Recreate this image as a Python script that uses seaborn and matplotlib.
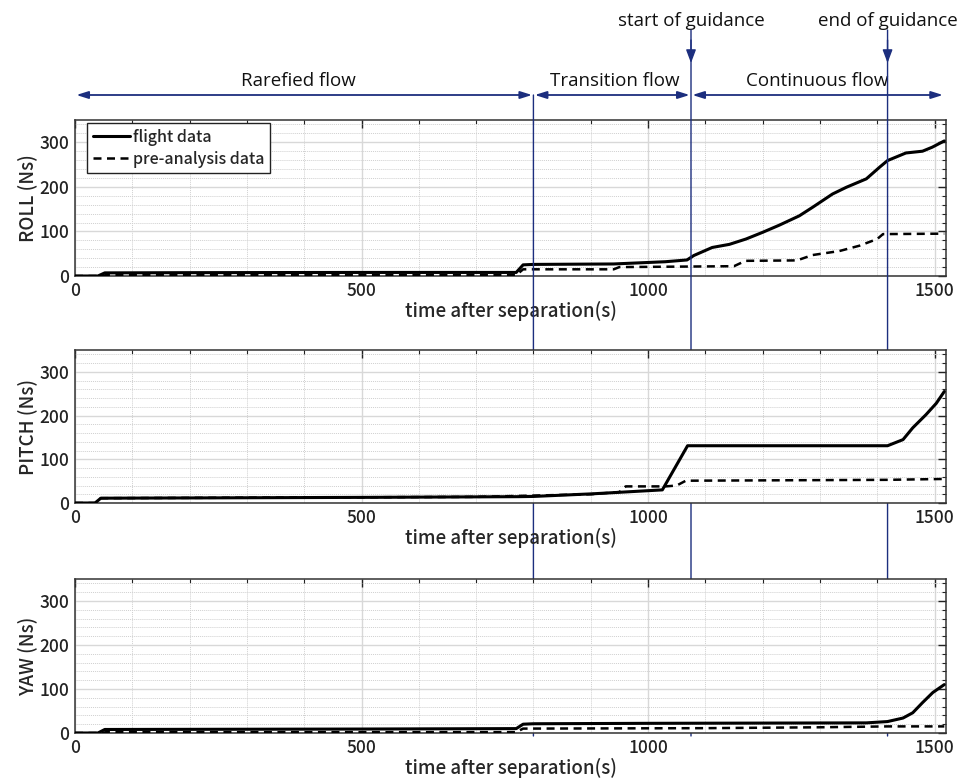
import numpy as np
import pandas as pd
import matplotlib
matplotlib.use("Agg")
import matplotlib.pyplot as plt
import seaborn as sns
from matplotlib.ticker import MultipleLocator

# ---------------- data ----------------
roll_flight_t = [0, 40, 52, 200, 500, 770, 782, 800, 940, 1030, 1068, 1080, 1112, 1142, 1171, 1200,
                 1229, 1264, 1287, 1322, 1346, 1381, 1404, 1418, 1450, 1479, 1496, 1517]
roll_flight_v = [0, 0, 7, 7.5, 8, 8, 25, 26, 27, 32, 36, 46, 64, 71, 83, 98,
                 114, 135, 154, 184, 199, 218, 244, 259, 276, 280, 289, 303]
roll_pre_t = [0, 45, 55, 770, 782, 940, 950, 1150, 1170, 1260, 1287, 1334, 1369, 1400, 1410, 1517]
roll_pre_v = [0, 0, 2, 2, 15, 15, 20, 22, 34, 35, 47, 56, 68, 83, 94, 95]

pitch_flight_t = [0, 35, 45, 300, 530, 774, 800, 903, 1025, 1069, 1418, 1445, 1462, 1485, 1503, 1517]
pitch_flight_v = [0, 0, 11, 12, 13, 14.5, 15, 21, 30, 131, 131, 145, 172, 202, 228, 255]
pitch_pre_t = [0, 35, 45, 700, 900, 950, 961, 1031, 1050, 1066, 1418, 1517]
pitch_pre_v = [0, 0, 11, 14, 20, 25, 38, 38, 40, 51, 53, 55]

yaw_flight_t = [0, 40, 52, 500, 770, 782, 800, 1000, 1381, 1418, 1445, 1462, 1479, 1497, 1517]
yaw_flight_v = [0, 0, 8, 9, 10, 20, 21, 22, 23, 26, 34, 46, 69, 92, 110]
yaw_pre_t = [0, 45, 55, 770, 782, 1100, 1300, 1418, 1517]
yaw_pre_v = [0, 0, 2, 2, 10, 11, 13, 15, 15]

panel_labels = ["ROLL (Ns)", "PITCH (Ns)", "YAW (Ns)"]
xlabel = "time after separation(s)"
legend_labels = ["flight data", "pre-analysis data"]
region_names = ["Rarefied flow", "Transition flow", "Continuous flow"]
region_bounds = [0, 800, 1075, 1517]
event_names = ["start of guidance", "end of guidance"]
event_times = [1075, 1418]

# ---------------- style ----------------
sns.set_style("white")
plt.rcParams["font.family"] = ["Noto Sans CJK JP", "DejaVu Sans"]
NAVY = "#1c2e7e"
tick_font = ["Noto Sans CJK JP", "DejaVu Sans"]
anno_font = ["Open Sans", "DejaVu Sans"]

W, H = 964, 783
fig = plt.figure(figsize=(W / 100, H / 100), dpi=100)

panels_px = [(120, 276), (350, 503), (579, 733)]
left_px, right_px = 75, 946

series = [
    (roll_flight_t, roll_flight_v, roll_pre_t, roll_pre_v),
    (pitch_flight_t, pitch_flight_v, pitch_pre_t, pitch_pre_v),
    (yaw_flight_t, yaw_flight_v, yaw_pre_t, yaw_pre_v),
]

axes = []
for i, ((top, bot), (ft, fv, pt, pv)) in enumerate(zip(panels_px, series)):
    ax = fig.add_axes([left_px / W, 1 - bot / H, (right_px - left_px) / W, (bot - top) / H])
    axes.append(ax)
    df_f = pd.DataFrame({"t": ft, "v": fv})
    df_p = pd.DataFrame({"t": pt, "v": pv})
    sns.lineplot(data=df_p, x="t", y="v", ax=ax, color="black", linewidth=1.8,
                 linestyle=(0, (3.2, 2.2)), label=legend_labels[1], zorder=3)
    sns.lineplot(data=df_f, x="t", y="v", ax=ax, color="black", linewidth=2.2,
                 label=legend_labels[0], zorder=4)
    ax.set_xlim(0, 1520)
    ax.set_ylim(0, 350)
    ax.xaxis.set_major_locator(MultipleLocator(500))
    ax.xaxis.set_minor_locator(MultipleLocator(100))
    ax.yaxis.set_major_locator(MultipleLocator(100))
    ax.yaxis.set_minor_locator(MultipleLocator(20))
    ax.grid(True, which="major", color="#d8d8d8", linewidth=1.0, linestyle="-")
    ax.grid(True, which="minor", color="#d0d0d0", linewidth=0.7, linestyle=(0, (1, 1)))
    ax.set_axisbelow(True)
    ax.tick_params(which="both", direction="in", top=True, right=True, colors="#222222")
    ax.tick_params(which="major", length=6, width=1, labelsize=12.5, pad=4)
    ax.tick_params(which="minor", length=3, width=0.8)
    for lab in ax.get_xticklabels() + ax.get_yticklabels():
        lab.set_family(tick_font)
        lab.set_fontweight("medium")
    for s in ax.spines.values():
        s.set_color("#333333")
        s.set_linewidth(1.1)
    ax.set_xlabel(xlabel, fontsize=13.5, family=tick_font, fontweight="medium", labelpad=1)
    ax.set_ylabel(panel_labels[i], fontsize=13.5, family=tick_font, fontweight="medium", labelpad=2)
    leg = ax.get_legend()
    if i == 0:
        handles, labels = ax.get_legend_handles_labels()
        order = [labels.index(legend_labels[0]), labels.index(legend_labels[1])]
        leg = ax.legend([handles[k] for k in order], [labels[k] for k in order],
                        loc="upper left", bbox_to_anchor=(0.014, 0.98), frameon=True,
                        fancybox=False, edgecolor="#222222", framealpha=1,
                        prop={"family": tick_font, "size": 11.5, "weight": "medium"},
                        handlelength=2.3, handletextpad=0.2, borderpad=0.35,
                        labelspacing=0.3, borderaxespad=0)
        leg.get_frame().set_linewidth(1.0)
    else:
        if leg is not None:
            leg.remove()

ax1, ax3 = axes[0], axes[2]

# ---------------- annotations ----------------
def fy(px):
    return 1 - px / H

arrow_y = fy(95)
bottom_y = fy(736)

# region arrows
for k in range(3):
    ax1.annotate("", xy=(region_bounds[k], arrow_y), xytext=(region_bounds[k + 1], arrow_y),
                 xycoords=("data", "figure fraction"), textcoords=("data", "figure fraction"),
                 arrowprops=dict(arrowstyle="<|-|>,head_length=0.7,head_width=0.22",
                                 color=NAVY, lw=1.3, shrinkA=1, shrinkB=1),
                 annotation_clip=False)
    xc = (region_bounds[k] + region_bounds[k + 1]) / 2
    if k == 1:
        xc += 5
    if k == 0:
        xc -= 10
    ax1.annotate(region_names[k], xy=(xc, fy(81)), xycoords=("data", "figure fraction"),
                 ha="center", va="center", fontsize=13.5, family=anno_font, color="#111111",
                 annotation_clip=False)

# boundary line between rarefied and transition
ax1.annotate("", xy=(region_bounds[1], bottom_y), xytext=(region_bounds[1], arrow_y),
             xycoords=("data", "figure fraction"), textcoords=("data", "figure fraction"),
             arrowprops=dict(arrowstyle="-", color=NAVY, lw=1.0, shrinkA=0, shrinkB=0),
             annotation_clip=False, zorder=10)

# guidance event lines
for name, t in zip(event_names, event_times):
    ax1.annotate("", xy=(t, bottom_y), xytext=(t, fy(30)),
                 xycoords=("data", "figure fraction"), textcoords=("data", "figure fraction"),
                 arrowprops=dict(arrowstyle="-", color=NAVY, lw=1.0, shrinkA=0, shrinkB=0),
                 annotation_clip=False, zorder=10)
    ax1.annotate("", xy=(t, fy(63)), xytext=(t, fy(40)),
                 xycoords=("data", "figure fraction"), textcoords=("data", "figure fraction"),
                 arrowprops=dict(arrowstyle="-|>,head_length=0.8,head_width=0.3",
                                 color=NAVY, lw=1.0, shrinkA=0, shrinkB=0),
                 annotation_clip=False)
    ax1.annotate(name, xy=(t, fy(21)), xycoords=("data", "figure fraction"),
                 ha="center", va="center", fontsize=13.5, family=anno_font, color="#111111",
                 annotation_clip=False)

fig.savefig("out.png", dpi=100)
